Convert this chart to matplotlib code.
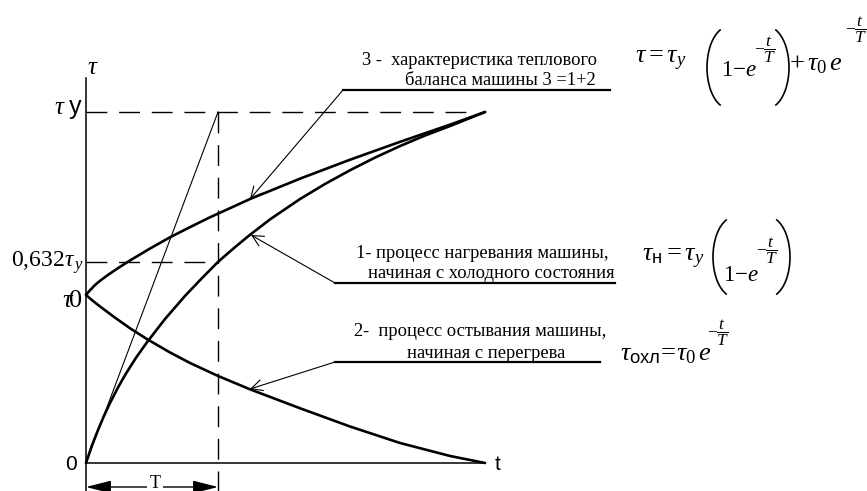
import matplotlib
matplotlib.use("Agg")
import matplotlib.pyplot as plt
from matplotlib.patches import Arc

plt.rcParams['font.family'] = ['Liberation Serif', 'DejaVu Serif']
plt.rcParams['mathtext.fontset'] = 'custom'
plt.rcParams['mathtext.rm'] = 'Liberation Serif'
plt.rcParams['mathtext.it'] = 'Liberation Serif:italic'
plt.rcParams['mathtext.sf'] = 'Liberation Sans'
plt.rcParams['lines.scale_dashes'] = False

# time in units of T, temperature rise in units of tau_y
t_heat = [0.0, 0.045, 0.091, 0.136, 0.182, 0.242, 0.303, 0.379, 0.462, 0.598, 0.750, 0.864,
          1.0, 1.129, 1.242, 1.394, 1.621, 1.811, 2.0, 2.189, 2.379, 2.568, 2.758, 3.023]
tau_heat = [0.0, 0.050, 0.094, 0.134, 0.171, 0.215, 0.255, 0.300, 0.344, 0.410, 0.476, 0.521,
            0.573, 0.615, 0.650, 0.694, 0.752, 0.795, 0.834, 0.870, 0.903, 0.933, 0.960, 1.0]

t_sum = [0.0, 0.030, 0.068, 0.106, 0.167, 0.242, 0.333, 0.485, 0.636, 0.788, 0.939, 1.091,
         1.242, 1.621, 2.0, 2.379, 2.758, 3.023]
tau_sum = [0.479, 0.492, 0.507, 0.519, 0.536, 0.555, 0.577, 0.611, 0.643, 0.672, 0.700, 0.726,
           0.752, 0.810, 0.864, 0.915, 0.964, 1.0]

t_cool = [0.0, 0.045, 0.106, 0.220, 0.333, 0.462, 0.636, 0.788, 1.0, 1.242, 1.621, 2.0,
          2.379, 2.758, 3.023]
tau_cool = [0.479, 0.464, 0.446, 0.414, 0.384, 0.353, 0.315, 0.285, 0.248, 0.210, 0.156, 0.104,
            0.057, 0.020, 0.0]

t_end = 3.023
tau_top = 1.097
level_T = 0.573      # value of curve 1 at t = T

X0, Y0, SX, SY = 86, 463, 132, 351


def px(x, y):
    return (x - X0) / SX, (Y0 - y) / SY


fig = plt.figure(figsize=(8.67, 4.91), dpi=100)
ax = fig.add_axes([0, 0, 1, 1])
ax.set_xlim(-X0 / SX, (867 - X0) / SX)
ax.set_ylim((Y0 - 491) / SY, Y0 / SY)
ax.axis('off')

k = 'black'
bottom = (Y0 - 491) / SY
# axes
ax.plot([0, 0], [bottom, tau_top], color=k, lw=1.1)
ax.plot([0, t_end], [0, 0], color=k, lw=1.1)

# dashed construction lines
dash = (15, 8.5)
ax.plot([0, 2.95], [1, 1], color=k, lw=1.0, dashes=dash)
ax.plot([0, 1], [level_T, level_T], color=k, lw=1.0, dashes=dash)
ax.plot([1, 1], [1, bottom], color=k, lw=1.0, dashes=dash)

# tangent at origin
ax.plot([0, 1], [0, 1], color=k, lw=0.8)

# curves
for ts, vs in [(t_heat, tau_heat), (t_sum, tau_sum), (t_cool, tau_cool)]:
    ax.plot(ts, vs, color=k, lw=1.9, solid_joinstyle='round', solid_capstyle='round')

# leaders to the curves
leaders = [
    ((343, 90), (610, 90), (250, 199)),
    ((335, 283), (615, 283), (251, 235)),
    ((335, 362), (600, 362), (250, 389)),
]
for a, b, tip in leaders:
    ax.plot(*zip(px(*a), px(*b)), color=k, lw=1.6)
    ax.annotate('', xy=px(*tip), xytext=px(*a),
                arrowprops=dict(arrowstyle='->,head_length=0.5,head_width=0.25', color=k, lw=0.8,
                                shrinkA=0, shrinkB=0, mutation_scale=16))

# T dimension
ax.annotate('', xy=px(86, 487), xytext=px(218, 487),
            arrowprops=dict(arrowstyle='<|-|>,head_length=1.1,head_width=0.28', color=k, lw=1.0,
                            shrinkA=0, shrinkB=0, mutation_scale=14))
ax.text(*px(155, 492), 'T', fontsize=13, ha='center', va='bottom',
        bbox=dict(fc='white', ec='none', pad=1.5))


def put(s, x, y, fs, ha='left', va='baseline', **kw):
    ax.text(*px(x, y), s, fontsize=fs, ha=ha, va=va, **kw)


fs = 13.3
put('3 -  характеристика теплового', 597, 60, fs, ha='right', va='center')
put('баланса машины 3 =1+2', 596, 80, fs, ha='right', va='center')
put('1- процесс нагревания машины,', 482, 253, fs, ha='center', va='center')
put('начиная с холодного состояния', 491, 273, fs, ha='center', va='center')
put('2-  процесс остывания машины,', 480, 332, fs, ha='center', va='center')
put('начиная с перегрева', 486, 353, fs, ha='center', va='center')

# axis labels
put(r'$\tau$', 93, 68, 18, ha='center', va='center')
put(r'$\tau\ \mathsf{y}$', 83, 114, 18, ha='right')
put(r'0,632$\tau_{\,y}$', 84, 263, 17, ha='right', va='center')
put(r'$\tau\!\mathit{0}$', 82, 307, 19, ha='right')
put('0', 71, 470, 15, ha='center', family='Liberation Sans')
put('t', 498, 470, 15, ha='center', family='Liberation Sans')


def paren(x, ytop, ybot, side):
    # thin tall bracket drawn as an elliptic arc
    h = (ybot - ytop) / 0.866
    w = 44
    cx = x + w / 2 if side == 'left' else x - w / 2
    cy = (ytop + ybot) / 2
    t1, t2 = (120, 240) if side == 'left' else (-60, 60)
    ax.add_patch(Arc(px(cx, cy), w / SX, h / SY, theta1=t1, theta2=t2, color=k, lw=1.2))


mfs = 19
ofs = 16.5
efs = 12.5
# tau = tau_y (1 - e^{-t/T}) + tau_0 e^{-t/T}
put(r'$\tau = \tau_y$', 635, 63, mfs)
paren(707, 32, 103, 'left')
put(r'$\mathit{1}{-}e$', 721, 76, ofs)
put(r'$-\dfrac{t}{T}$', 754, 50, efs, va='center')
paren(789, 32, 103, 'right')
put(r'$+\,\tau_0\,e$', 789, 70, mfs)
put(r'$-\dfrac{t}{T}$', 845, 30, efs, va='center')

# tau_n = tau_y (1 - e^{-t/T})
put(r'$\tau_{\mathsf{н}} = \tau_y$', 642, 261, mfs)
paren(713, 222, 292, 'left')
put(r'$\mathit{1}{-}e$', 723, 281, ofs)
put(r'$-\dfrac{t}{T}$', 756, 251, efs, va='center')
paren(790, 222, 292, 'right')

# tau_ohl = tau_0 e^{-t/T}
put(r'$\tau_{\mathsf{охл}}\!=\!\tau_0\,e$', 620, 360, mfs)
put(r'$-\dfrac{t}{T}$', 707, 333, efs, va='center')

fig.savefig('out.png', dpi=100)
